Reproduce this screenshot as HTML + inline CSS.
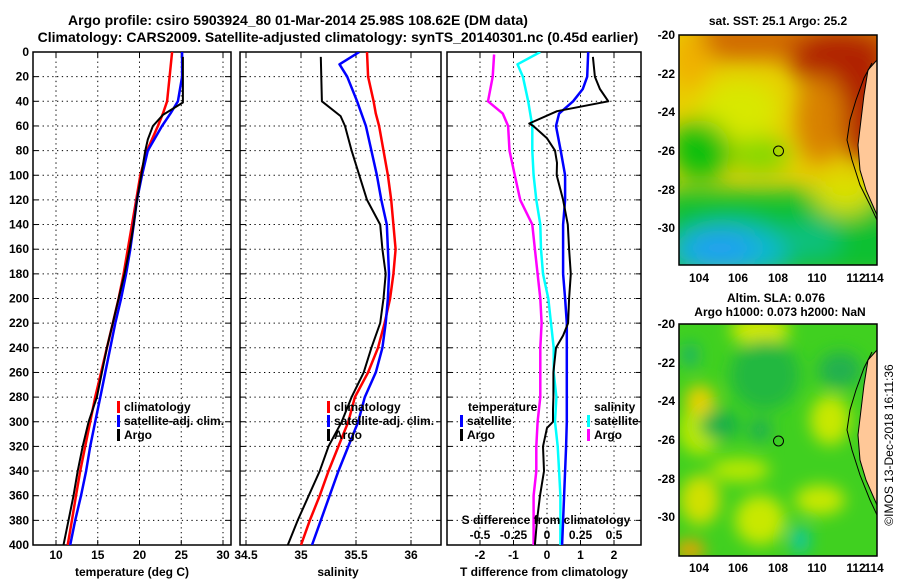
<!DOCTYPE html>
<html><head><meta charset="utf-8"><style>
html,body{margin:0;padding:0;background:#fff;}
svg{display:block;font-family:"Liberation Sans",sans-serif;font-weight:bold;}
</style></head><body>
<svg id="chart" width="900" height="580" viewBox="0 0 900 580" xmlns="http://www.w3.org/2000/svg">
<defs>
<clipPath id="cp1"><rect x="33" y="52" width="198" height="493"/></clipPath>
<clipPath id="cp2"><rect x="240" y="52" width="201" height="493"/></clipPath>
<clipPath id="cp3"><rect x="447" y="52" width="194" height="493"/></clipPath>
<clipPath id="cm1"><rect x="679" y="35" width="198" height="230"/></clipPath>
<clipPath id="cm2"><rect x="679" y="324" width="198" height="232"/></clipPath>
<filter id="bl" x="-50%" y="-50%" width="200%" height="200%"><feGaussianBlur stdDeviation="12"/></filter>
<filter id="bl2" x="-50%" y="-50%" width="200%" height="200%"><feGaussianBlur stdDeviation="8"/></filter>
</defs>
<text x="298" y="25" font-size="14" text-anchor="middle">Argo profile: csiro 5903924_80 01-Mar-2014 25.98S 108.62E (DM data)</text>
<text x="338" y="42" font-size="14" text-anchor="middle">Climatology: CARS2009. Satellite-adjusted climatology: synTS_20140301.nc (0.45d earlier)</text>
<g id="panels"></g>

<!-- SST map -->
<g>
<text x="778" y="25" font-size="12" text-anchor="middle">sat. SST: 25.1 Argo: 25.2</text>
<g clip-path="url(#cm1)">
<rect x="679" y="35" width="198" height="230" fill="#e8d000"/>
<g filter="url(#bl)">
<rect x="700" y="20" width="200" height="40" fill="#d06800"/>
<ellipse cx="690" cy="60" rx="20" ry="30" fill="#f0b000"/>
<ellipse cx="840" cy="60" rx="50" ry="30" fill="#b02000"/>
<ellipse cx="865" cy="110" rx="25" ry="55" fill="#b02000"/>
<ellipse cx="820" cy="120" rx="25" ry="45" fill="#d88000"/>
<ellipse cx="740" cy="110" rx="40" ry="30" fill="#d8e800"/>
<ellipse cx="700" cy="150" rx="30" ry="30" fill="#10c010"/>
<rect x="660" y="190" width="240" height="90" fill="#10c030"/>
<ellipse cx="760" cy="155" rx="30" ry="18" fill="#80d800"/>
<ellipse cx="845" cy="195" rx="30" ry="20" fill="#d8e000"/>
<ellipse cx="730" cy="250" rx="60" ry="26" fill="#10b8d0"/>
<ellipse cx="720" cy="248" rx="35" ry="18" fill="#20a0f0"/>
<ellipse cx="810" cy="240" rx="30" ry="18" fill="#10c080"/>
</g>
<path d="M877 60 L868 70 L864 95 L861 120 L858 145 L860 170 L866 190 L877 215 Z" fill="#ffc898" stroke="#000" stroke-width="1"/>
<path d="M872 63 L864 78 L856 100 L850 120 L847 140 L852 160 L860 185 L870 205 L877 220" fill="none" stroke="#000" stroke-width="1"/>
<circle cx="778.5" cy="151" r="5" fill="none" stroke="#000" stroke-width="1"/>
</g>
<rect x="679" y="35" width="198" height="230" fill="none" stroke="#000" stroke-width="1.5"/>
<g font-size="12" text-anchor="end">
<text x="675" y="39">-20</text><text x="675" y="78">-22</text><text x="675" y="116">-24</text><text x="675" y="155">-26</text><text x="675" y="194">-28</text><text x="675" y="232">-30</text>
</g>
<g font-size="12" text-anchor="middle">
<text x="699" y="282">104</text><text x="738" y="282">106</text><text x="778" y="282">108</text><text x="817" y="282">110</text><text x="856" y="282">112</text><text x="874" y="282">114</text>
</g>
</g>

<!-- SLA map -->
<g>
<text x="776" y="302" font-size="12" text-anchor="middle">Altim. SLA: 0.076</text>
<text x="780" y="316" font-size="12" text-anchor="middle">Argo h1000: 0.073 h2000: NaN</text>
<g clip-path="url(#cm2)">
<rect x="679" y="324" width="198" height="232" fill="#40d020"/>
<g filter="url(#bl2)">
<ellipse cx="700" cy="430" rx="22" ry="25" fill="#b8e800"/>
<ellipse cx="700" cy="400" rx="15" ry="15" fill="#e8d000"/>
<ellipse cx="760" cy="330" rx="30" ry="15" fill="#d0e800"/>
<ellipse cx="830" cy="420" rx="20" ry="25" fill="#c8e800"/>
<ellipse cx="820" cy="500" rx="25" ry="15" fill="#c8e800"/>
<ellipse cx="700" cy="500" rx="20" ry="25" fill="#d0e000"/>
<ellipse cx="760" cy="520" rx="25" ry="25" fill="#c8e800"/>
<ellipse cx="740" cy="470" rx="30" ry="12" fill="#b8e800"/>
<ellipse cx="690" cy="550" rx="15" ry="10" fill="#f0a000"/>
<ellipse cx="720" cy="425" rx="20" ry="15" fill="#18b048"/>
<ellipse cx="765" cy="375" rx="35" ry="35" fill="#20b840"/>
<ellipse cx="840" cy="370" rx="22" ry="18" fill="#20b050"/>
<ellipse cx="760" cy="430" rx="12" ry="12" fill="#20b050"/>
<ellipse cx="800" cy="540" rx="10" ry="14" fill="#10c8a0"/>
<ellipse cx="690" cy="355" rx="8" ry="12" fill="#18b070"/>
</g>
<path d="M877 350 L868 360 L864 385 L861 410 L858 435 L860 460 L866 480 L877 505 Z" fill="#ffc898" stroke="#000" stroke-width="1"/>
<path d="M872 352 L864 368 L856 390 L850 410 L847 430 L852 450 L860 475 L870 500 L877 515" fill="none" stroke="#000" stroke-width="1"/>
<circle cx="778.5" cy="441" r="5" fill="none" stroke="#000" stroke-width="1"/>
</g>
<rect x="679" y="324" width="198" height="232" fill="none" stroke="#000" stroke-width="1.5"/>
<g font-size="12" text-anchor="end">
<text x="675" y="328">-20</text><text x="675" y="367">-22</text><text x="675" y="405">-24</text><text x="675" y="444">-26</text><text x="675" y="483">-28</text><text x="675" y="521">-30</text>
</g>
<g font-size="12" text-anchor="middle">
<text x="699" y="572">104</text><text x="738" y="572">106</text><text x="778" y="572">108</text><text x="817" y="572">110</text><text x="856" y="572">112</text><text x="874" y="572">114</text>
</g>
<text transform="translate(893,445) rotate(-90)" font-size="12" font-weight="normal" text-anchor="middle">©IMOS 13-Dec-2018 16:11:36</text>
</g>
</svg>
<script>
// ---- data ----
const depthTicks = [0,20,40,60,80,100,120,140,160,180,200,220,240,260,280,300,320,340,360,380,400];
const stdDepths = [0,20,40,50,60,80,100,120,140,160,180,200,220,240,260,280,300,320,340,360,380,400];
const tempClim = [23.9,23.6,23.3,22.8,22.2,20.9,20.1,19.6,19.1,18.6,18.1,17.5,16.8,16.1,15.4,14.7,14.1,13.5,12.9,12.4,11.9,11.4];
const tempSat = [25.1,25.1,24.6,23.7,22.7,21.0,20.3,19.7,19.3,18.9,18.4,17.8,17.1,16.5,15.9,15.3,14.7,14.1,13.6,13.0,12.3,11.7];
const tempArgoDepths = [4,20,41,51,60,71,80,100,120,140,160,180,200,220,240,260,280,300,320,340,360,380,400];
const tempArgo = [25.2,25.2,25.2,22.8,21.6,21.0,20.7,20.2,19.7,19.3,18.8,18.2,17.5,16.8,16.1,15.5,14.9,13.9,13.2,12.6,12.1,11.5,10.9];
const salClim = [35.60,35.61,35.66,35.68,35.71,35.75,35.79,35.82,35.84,35.86,35.84,35.81,35.76,35.70,35.61,35.49,35.43,35.34,35.25,35.17,35.08,35.00];
const salSatDepths = [0,10,20,40,60,80,100,120,140,160,180,200,220,240,260,280,300,320,340,360,380,400];
const salSat = [35.53,35.35,35.42,35.51,35.59,35.64,35.69,35.73,35.78,35.79,35.80,35.79,35.77,35.74,35.68,35.58,35.52,35.43,35.34,35.26,35.18,35.10];
const salArgoDepths = [4,40,52,60,80,100,120,140,160,180,200,220,240,260,280,300,320,340,360,380,400];
const salArgo = [35.18,35.19,35.36,35.40,35.46,35.53,35.60,35.72,35.74,35.77,35.75,35.72,35.64,35.57,35.46,35.37,35.25,35.17,35.07,34.97,34.88];
const tSatDiffDepths = [0,20,30,40,50,60,80,100,120,140,160,180,200,220,240,260,280,300,320,340,360,380,400];
const tSatDiff = [1.23,1.2,1.07,0.78,0.36,0.27,0.41,0.54,0.54,0.48,0.48,0.48,0.54,0.59,0.59,0.59,0.59,0.59,0.57,0.54,0.51,0.48,0.45];
const tArgoDiffDepths = [4,20,30,40,48,58,60,70,80,90,100,120,140,160,180,200,220,230,240,260,280,290,300,305,320,340,360,380,400];
const tArgoDiff = [1.37,1.43,1.58,1.83,0.3,-0.53,-0.41,0,0.24,0.3,0.29,0.48,0.62,0.66,0.71,0.66,0.63,0.48,0.27,0.19,0.19,0.18,0.18,0,-0.12,-0.09,-0.21,-0.3,-0.36];
const sSatDiffDepths = [0,10,20,40,60,80,100,120,140,160,180,200,220,240,260,280,300,320,340,360,380,400];
const sSatDiff = [-0.05,-0.22,-0.18,-0.14,-0.11,-0.11,-0.1,-0.08,-0.05,-0.045,-0.03,0.01,0.03,0.05,0.05,0.07,0.06,0.08,0.09,0.1,0.1,0.1];
const sArgoDiffDepths = [2,20,40,50,60,80,100,120,140,160,180,200,220,240,260,280,300,320,340,360,380,400];
const sArgoDiff = [-0.395,-0.405,-0.44,-0.33,-0.29,-0.28,-0.24,-0.2,-0.11,-0.09,-0.07,-0.05,-0.04,-0.05,-0.05,-0.05,-0.07,-0.08,-0.08,-0.1,-0.1,-0.1];
const tempTicks = [10,15,20,25,30];
const salTicks = [34.5,35,35.5,36];
const tDiffTicks = [-2,-1,0,1,2];
const sDiffTicks = [-0.5,-0.25,0,0.25,0.5];
const sDiffTickLabels = ["-0.5","-0.25","0","0.25","0.5"];

// ---- scales ----
const Y0 = 52, Y1 = 545;
const yD = d => Y0 + d * (Y1 - Y0) / 400;
const xT = t => 56 + (t - 10) * 8.35;
const xS = s => 301 + (s - 35) * 110;
const xTd = t => 547 + t * 33.5;
const xSd = s => 547 + s * 134;

const NS = "http://www.w3.org/2000/svg";
const root = document.getElementById('panels');
function mk(tag, attrs, parent) {
  const e = document.createElementNS(NS, tag);
  for (const k in attrs) e.setAttribute(k, attrs[k]);
  (parent || root).appendChild(e);
  return e;
}
function txt(x, y, s, anchor, size, parent) {
  const t = mk('text', {x: x, y: y, 'font-size': size || 12, 'text-anchor': anchor || 'middle'}, parent);
  t.textContent = s;
  return t;
}
function panel(name, x0, x1, xf, ticks, clip) {
  const g = mk('g', {});
  
  
  ticks.forEach(v => {
    const gl = mk('line', {x1: xf(v), x2: xf(v), y1: Y0, y2: Y1, stroke: '#000', 'stroke-width': 1, 'stroke-dasharray': '1.3,3.5'}, g);
    
    
    mk('line', {x1: xf(v), x2: xf(v), y1: Y1, y2: Y1 - 5, stroke: '#000'}, g);
    mk('line', {x1: xf(v), x2: xf(v), y1: Y0, y2: Y0 + 5, stroke: '#000'}, g);
  });
  depthTicks.forEach(d => {
    if (d === 0 || d === 400) return;
    const gl = mk('line', {x1: x0, x2: x1, y1: yD(d), y2: yD(d), stroke: '#000', 'stroke-width': 1, 'stroke-dasharray': '1.3,3.5'}, g);
    
    
  });
  depthTicks.forEach(d => {
    mk('line', {x1: x0, x2: x0 + 5, y1: yD(d), y2: yD(d), stroke: '#000'}, g);
    mk('line', {x1: x1, x2: x1 - 5, y1: yD(d), y2: yD(d), stroke: '#000'}, g);
  });
  const fr = mk('rect', {x: x0, y: Y0, width: x1 - x0, height: Y1 - Y0, fill: 'none', stroke: '#000', 'stroke-width': 1.5}, g);
  
  
  const lines = mk('g', {'clip-path': 'url(#' + clip + ')'}, g);
  return {g: g, lines: lines};
}
function series(parent, name, depths, vals, xf, color, w) {
  const pts = depths.map((d, i) => xf(vals[i]).toFixed(1) + ',' + yD(d).toFixed(1)).join(' ');
  const p = mk('polyline', {points: pts, fill: 'none', stroke: color, 'stroke-width': w, 'stroke-linejoin': 'round'}, parent);
  
  
  return p;
}
function legendEntry(parent, x, y, color, label) {
  const g = mk('g', {}, parent);
  
  
  mk('rect', {x: x, y: y - 10, width: 3, height: 12, fill: color}, g);
  txt(x + 7, y, label, 'start', 12, g);
}

// Panel 1: temperature
const p1 = panel('temperature-panel', 33, 231, xT, tempTicks, 'cp1');
series(p1.lines, 'temp-climatology-line', stdDepths, tempClim, xT, '#ff0000', 2.5);
series(p1.lines, 'temp-satellite-line', stdDepths, tempSat, xT, '#0000ff', 2.5);
series(p1.lines, 'temp-argo-line', tempArgoDepths, tempArgo, xT, '#000000', 2);
depthTicks.forEach(d => { const t = txt(29, yD(d) + 4, String(d), 'end', 12, p1.g);   });
tempTicks.forEach(v => txt(xT(v), 559, String(v), 'middle', 12, p1.g));
txt(132, 576, 'temperature (deg C)', 'middle', 12, p1.g);
legendEntry(p1.g, 117, 411, '#ff0000', 'climatology');
legendEntry(p1.g, 117, 425, '#0000ff', 'satellite-adj. clim.');
legendEntry(p1.g, 117, 439, '#000000', 'Argo');

// Panel 2: salinity
const p2 = panel('salinity-panel', 240, 441, xS, salTicks, 'cp2');
series(p2.lines, 'sal-climatology-line', stdDepths, salClim, xS, '#ff0000', 2.5);
series(p2.lines, 'sal-satellite-line', salSatDepths, salSat, xS, '#0000ff', 2.5);
series(p2.lines, 'sal-argo-line', salArgoDepths, salArgo, xS, '#000000', 2);
salTicks.forEach(v => txt(xS(v), 559, String(v), 'middle', 12, p2.g));
txt(338, 576, 'salinity', 'middle', 12, p2.g);
legendEntry(p2.g, 327, 411, '#ff0000', 'climatology');
legendEntry(p2.g, 327, 425, '#0000ff', 'satellite-adj. clim.');
legendEntry(p2.g, 327, 439, '#000000', 'Argo');

// Panel 3: differences
const p3 = panel('difference-panel', 447, 641, xTd, tDiffTicks, 'cp3');
series(p3.lines, 'sdiff-argo-line', sArgoDiffDepths, sArgoDiff, xSd, '#ff00ff', 2.5);
series(p3.lines, 'sdiff-satellite-line', sSatDiffDepths, sSatDiff, xSd, '#00ffff', 2.5);
series(p3.lines, 'tdiff-satellite-line', tSatDiffDepths, tSatDiff, xTd, '#0000ff', 2.5);
series(p3.lines, 'tdiff-argo-line', tArgoDiffDepths, tArgoDiff, xTd, '#000000', 2);
tDiffTicks.forEach(v => txt(xTd(v), 559, String(v), 'middle', 12, p3.g));
txt(544, 576, 'T difference from climatology', 'middle', 12, p3.g);
sDiffTicks.forEach((v, i) => txt(xSd(v), 539, sDiffTickLabels[i], 'middle', 12, p3.g));
txt(546, 524, 'S difference from climatology', 'middle', 12, p3.g);
txt(468, 411, 'temperature', 'start', 12, p3.g);
legendEntry(p3.g, 460, 425, '#0000ff', 'satellite');
legendEntry(p3.g, 460, 439, '#000000', 'Argo');
txt(594, 411, 'salinity', 'start', 12, p3.g);
legendEntry(p3.g, 587, 425, '#00ffff', 'satellite');
legendEntry(p3.g, 587, 439, '#ff00ff', 'Argo');
</script>
</body></html>
